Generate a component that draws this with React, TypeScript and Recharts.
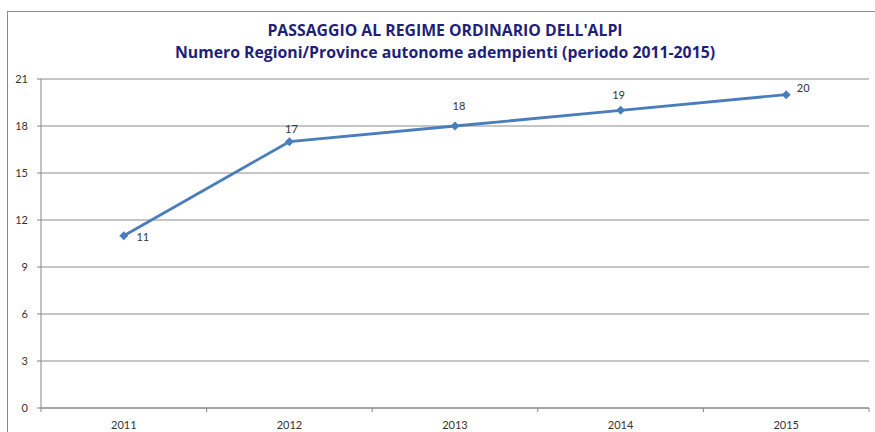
import { ComposedChart, Line, CartesianGrid, XAxis, YAxis } from 'recharts';

const years = ['2011', '2012', '2013', '2014', '2015'];
const adempienti = [11, 17, 18, 19, 20];
const yTicks = [0, 3, 6, 9, 12, 15, 18, 21];

// label offsets (dx, dy) to mimic the excel placement
const labelOffsets = [
  [19, 5],
  [2, -9],
  [4, -16],
  [-2, -11],
  [17, -3],
];

const data = years.map((year, i) => ({ year, value: adempienti[i] }));

const W = 875;
const H = 432;
const PLOT_LEFT = 41;
const PLOT_RIGHT = 869;
const BAND = (PLOT_RIGHT - PLOT_LEFT) / years.length;

const font = 'Lato, "Open Sans", sans-serif';
const titleFont = '"Open Sans", sans-serif';

const XTick = (props: any) => {
  const { x, y, payload, index } = props;
  const last = index === years.length - 1;
  return (
    <g>
      <line x1={x - BAND / 2} x2={x - BAND / 2} y1={y - 8} y2={y - 4} stroke="#868686" />
      {last && <line x1={x + BAND / 2} x2={x + BAND / 2} y1={y - 8} y2={y - 4} stroke="#868686" />}
      <text x={x} y={y + 13} textAnchor="middle" fontSize={11} fill="#333" fontFamily={font}>
        {payload.value}
      </text>
    </g>
  );
};

const Diamond = (props: any) => {
  const { cx, cy } = props;
  if (cx == null || cy == null) return null;
  const r = 4.5;
  return (
    <polygon
      key={`d-${cx}`}
      points={`${cx},${cy - r} ${cx + r},${cy} ${cx},${cy + r} ${cx - r},${cy}`}
      fill="#4A7EBB"
    />
  );
};

const ValueLabel = (props: any) => {
  const { x, y, value, index } = props;
  const [dx, dy] = labelOffsets[index] || [0, -8];
  return (
    <text x={x + dx} y={y + dy} textAnchor="middle" fontSize={11} fill="#333" fontFamily={font}>
      {value}
    </text>
  );
};

export default function App() {
  return (
    <div style={{ position: 'absolute', left: 0, top: 0, width: W, height: H, background: '#fff', overflow: 'hidden' }}>
      <div
        style={{
          position: 'absolute',
          left: 7,
          top: 11,
          width: 900,
          height: 460,
          border: '1px solid #8a8a8a',
        }}
      />
      <div
        style={{
          position: 'absolute',
          left: 0,
          top: 19,
          width: 890,
          textAlign: 'center',
          fontFamily: titleFont,
          fontWeight: 'bold',
          fontSize: 15.8,
          lineHeight: '22px',
          color: '#1F1F78',
        }}
      >
        <div>PASSAGGIO AL REGIME ORDINARIO DELL'ALPI</div>
        <div>Numero Regioni/Province autonome adempienti (periodo 2011-2015)</div>
      </div>
      <div style={{ position: 'absolute', left: 0, top: 0 }}>
        <ComposedChart width={W} height={H} data={data} margin={{ top: 79, right: W - PLOT_RIGHT, bottom: 0, left: 0 }}>
          <CartesianGrid vertical={false} stroke="#8c8c8c" />
          <XAxis
            dataKey="year"
            height={24}
            stroke="#868686"
            tickLine={false}
            tick={<XTick />}
            interval={0}
            padding={{ left: BAND / 2, right: BAND / 2 }}
          />
          <YAxis
            width={PLOT_LEFT}
            domain={[0, 21]}
            ticks={yTicks}
            interval={0}
            stroke="#868686"
            tickSize={4}
            tickMargin={9}
            tick={{ fontSize: 11, fill: '#333', fontFamily: font }}
          />
          <Line
            dataKey="value"
            stroke="#4A7EBB"
            strokeWidth={2.8}
            dot={<Diamond />}
            activeDot={false}
            label={<ValueLabel />}
            isAnimationActive={false}
          />
        </ComposedChart>
      </div>
    </div>
  );
}
